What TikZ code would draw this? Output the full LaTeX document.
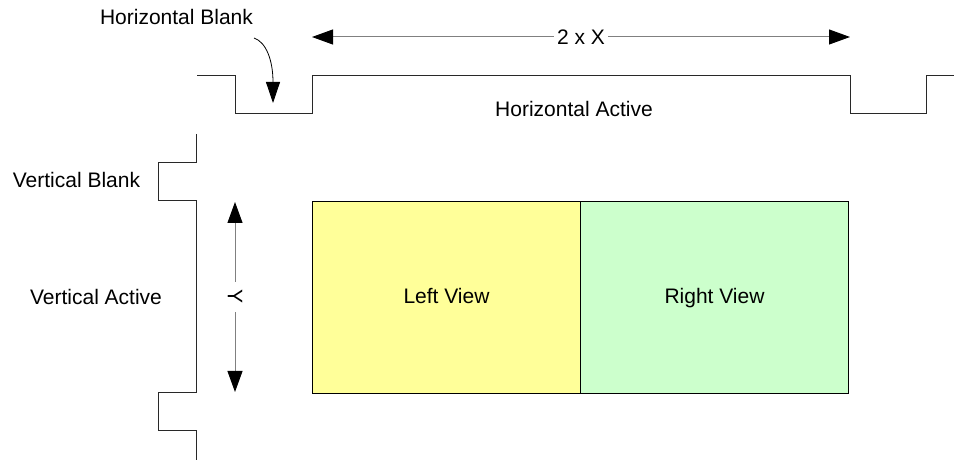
\documentclass[tikz,border=0pt]{standalone}
\usepackage{fontspec}
\setmainfont{Liberation Sans}
\usetikzlibrary{arrows.meta}
\definecolor{viewyellow}{RGB}{255,255,153}
\definecolor{viewgreen}{RGB}{204,255,204}
\definecolor{wavecol}{RGB}{40,40,40}
\definecolor{dimcol}{RGB}{128,128,128}
\begin{document}
\begin{tikzpicture}[x=1pt,y=-1pt,
  wave/.style={draw=wavecol, line width=1pt},
  dimline/.style={draw=dimcol, line width=1pt, {Triangle[length=21pt,width=15pt,color=black]}-{Triangle[length=21pt,width=15pt,color=black]}},
  lbl/.style={font=\fontsize{21}{24}\selectfont, inner sep=0pt},
  viewbox/.style={draw=black, line width=1pt, anchor=north west, minimum width=268pt, minimum height=192pt, font=\fontsize{21}{24}\selectfont, inner sep=0pt, text height=12pt, text depth=0pt}]
\useasboundingbox (0,0) rectangle (954,462);

% horizontal timing waveform
\coordinate (h0) at (197,76);
\coordinate (h1) at (235,76);
\coordinate (h2) at (235,114);
\coordinate (h3) at (312,114);
\coordinate (h4) at (312,76);
\coordinate (h5) at (850,76);
\coordinate (h6) at (850,114);
\coordinate (h7) at (926,114);
\coordinate (h8) at (926,76);
\coordinate (h9) at (954,76);
\draw[wave] (h0) -- (h1) -- (h2) -- (h3) -- (h4) -- (h5) -- (h6) -- (h7) -- (h8) -- (h9);

% vertical timing waveform
\coordinate (v0) at (196,134);
\coordinate (v1) at (196,163);
\coordinate (v2) at (158,163);
\coordinate (v3) at (158,201);
\coordinate (v4) at (196,201);
\coordinate (v5) at (196,393);
\coordinate (v6) at (158,393);
\coordinate (v7) at (158,431);
\coordinate (v8) at (196,431);
\coordinate (v9) at (196,460);
\draw[wave] (v0) -- (v1) -- (v2) -- (v3) -- (v4) -- (v5) -- (v6) -- (v7) -- (v8) -- (v9);

% views
\node[viewbox, fill=viewyellow] (left) at (312,201) {Left View};
\node[viewbox, fill=viewgreen] (right) at (580,201) {Right View};

% labels
\node[lbl, anchor=base] (hblank) at (176.5,25) {Horizontal Blank};
\node[lbl, anchor=base] (hactive) at (574,116.5) {Horizontal Active};
\node[lbl, anchor=base] (vblank) at (76.5,188) {Vertical Blank};
\node[lbl, anchor=base] (vactive) at (96,305) {Vertical Active};

% horizontal blank pointer
\coordinate (hbs) at (254,38);
\coordinate (hbe) at (273,103);
\draw[draw=black, line width=0.8pt, -{Triangle[length=21pt,width=14pt,color=black]}] (hbs) .. controls (266,42) and (273,60) .. (hbe);

% 2 x X dimension
\coordinate (xl) at (312,37);
\coordinate (xr) at (850,37);
\draw[dimline] (xl) -- node[lbl, fill=white, inner xsep=3pt, inner ysep=2pt] (xlab) {2 x X} (xr);

% Y dimension
\coordinate (yt) at (235,202);
\coordinate (yb) at (235,392);
\draw[dimline] (yt) -- node[lbl, fill=white, rotate=-90, inner xsep=8pt, inner ysep=2pt] (ylab) {Y} (yb);
\end{tikzpicture}
\end{document}
